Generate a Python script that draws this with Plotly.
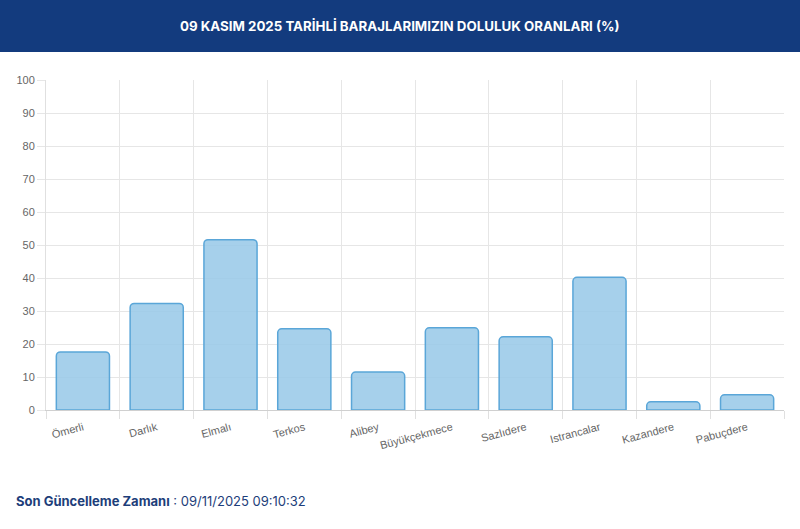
import plotly.graph_objects as go

categories = ["Ömerli", "Darlık", "Elmalı", "Terkos", "Alibey", "Büyükçekmece",
              "Sazlıdere", "Istrancalar", "Kazandere", "Pabuçdere"]
values = [17.6, 32.3, 51.6, 24.6, 11.5, 24.9, 22.2, 40.2, 2.5, 4.6]
y_ticks = list(range(0, 101, 10))

title_text = "09 KASIM 2025 TARİHLİ BARAJLARIMIZIN DOLULUK ORANLARI (%)"
footer_label = "Son Güncelleme Zamanı"
footer_value = "09/11/2025 09:10:32"

W, H = 800, 529
L, R, T, B = 46, 16, 80, 119
pw = W - L - R
ph = H - T - B

fig = go.Figure(go.Bar(
    x=categories, y=values,
    width=0.72,
    marker=dict(color="rgba(150,200,232,0.85)",
                line=dict(color="#5aa6d8", width=1.5),
                cornerradius=4),
    hoverinfo="x+y",
))

header_bottom = 52
fig.add_shape(type="rect", xref="paper", yref="paper",
              x0=-L / pw - 0.01, x1=1 + R / pw + 0.01,
              y0=(H - B - header_bottom) / ph, y1=(H - B) / ph + 0.01,
              fillcolor="#133b7e", line=dict(width=0), layer="above")

fig.add_annotation(text="<b>" + title_text + "</b>", xref="paper", yref="paper",
                   x=(400 - L) / pw, y=(H - B - 26) / ph,
                   xanchor="center", yanchor="middle", showarrow=False,
                   font=dict(family="Inter, Open Sans, sans-serif", size=13.3, color="white"))

fig.add_annotation(text="<b>" + footer_label + "</b> : " + footer_value,
                   xref="paper", yref="paper",
                   x=(14 - L) / pw, y=(H - B - 501) / ph,
                   xanchor="left", yanchor="middle", showarrow=False,
                   font=dict(family="Inter, Open Sans, sans-serif", size=13, color="#1d3e7a"))

fig.update_layout(
    width=W, height=H,
    margin=dict(l=L, r=R, t=T, b=B, autoexpand=False),
    paper_bgcolor="white", plot_bgcolor="white",
    showlegend=False,
    bargap=0.28,
    font=dict(family="Liberation Sans, Arial, sans-serif", color="#666666", size=11),
)
fig.update_xaxes(
    type="category", tickson="boundaries",
    showgrid=True, gridcolor="#e6e6e6", gridwidth=1,
    ticks="outside", ticklen=8, tickcolor="#e0e0e0",
    tickangle=-15, tickfont=dict(size=11, color="#666666"),
    ticklabelstandoff=6,
    showline=True, linecolor="#d0d0d0", linewidth=1,
    fixedrange=True,
)
fig.update_yaxes(
    range=[0, 100], tickvals=y_ticks,
    showgrid=True, gridcolor="#e6e6e6", gridwidth=1,
    ticks="outside", ticklen=8, tickcolor="#e6e6e6",
    tickfont=dict(size=11, color="#666666"),
    showline=True, linecolor="#e0e0e0", linewidth=1,
    zeroline=False,
    fixedrange=True,
)

fig.write_html("out.html", config={"displayModeBar": False},
               post_script="document.body.style.margin='0';document.body.style.overflow='hidden';")
